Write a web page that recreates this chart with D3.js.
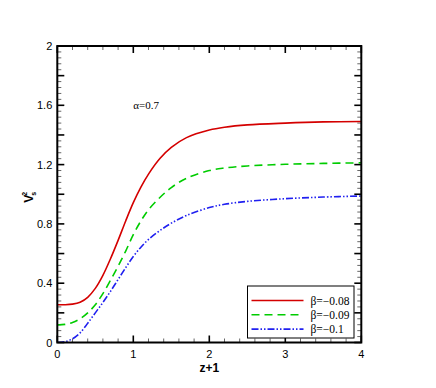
<!DOCTYPE html>
<html>
<head>
<meta charset="utf-8">
<script src="https://cdn.jsdelivr.net/npm/d3@7"></script>
<style>
  body { margin: 0; background: #fff; }
  svg { display: block; }
</style>
</head>
<body>
<div id="chart"></div>
<script>
(function () {
  'use strict';

  // ---- data ----
  var zValues     = [0, 0.1, 0.2, 0.3, 0.4, 0.5, 0.6, 0.7, 0.8, 0.9, 1.0, 1.1, 1.2, 1.35, 1.5, 1.7, 2.0, 2.2, 2.5, 3.0, 3.5, 4.0];
  var redValues   = [0.255, 0.255, 0.259, 0.272, 0.305, 0.365, 0.453, 0.565, 0.689, 0.82, 0.943, 1.048, 1.136, 1.241, 1.316, 1.382, 1.433, 1.452, 1.468, 1.48, 1.488, 1.491];
  var greenValues = [0.118, 0.122, 0.135, 0.16, 0.2, 0.255, 0.33, 0.42, 0.515, 0.617, 0.727, 0.82, 0.895, 0.978, 1.045, 1.108, 1.16, 1.177, 1.191, 1.202, 1.208, 1.212];
  var blueValues  = [0.0, 0.005, 0.025, 0.065, 0.13, 0.2, 0.27, 0.345, 0.425, 0.505, 0.58, 0.643, 0.695, 0.755, 0.805, 0.857, 0.91, 0.932, 0.952, 0.97, 0.981, 0.988];
  var seriesLabels = ["\u03b2=\u22120.08", "\u03b2=\u22120.09", "\u03b2=\u22120.1"];
  var xTickLabels = [0, 1, 2, 3, 4];
  var yTickLabels = [0, 0.4, 0.8, 1.2, 1.6, 2];

  var width = 436, height = 388;
  var plot = { left: 57.3, right: 361.3, top: 46, bottom: 342.5 };

  var svg = d3.select("#chart").append("svg")
      .attr("width", width)
      .attr("height", height);

  var x = d3.scaleLinear().domain([0, 4]).range([plot.left, plot.right]);
  var y = d3.scaleLinear().domain([0, 2]).range([plot.bottom, plot.top]);

  var styles = [
    { color: "#d40000", dash: null, values: redValues },
    { color: "#00cc00", dash: "8,5", values: greenValues },
    { color: "#2020f0", dash: "7,2,1.5,2,1.5,2", values: blueValues }
  ];

  // ---- ticks (inward, on all four sides) ----
  var xMinor = d3.range(0, 4.001, 0.2);
  var yMinor = d3.range(0, 2.001, 0.04);
  var yMajor = d3.range(0, 2.001, 0.2);

  var ticks = svg.append("g").attr("class", "ticks");

  xMinor.forEach(function (v) {
    var major = Math.abs(v - Math.round(v)) < 1e-6;
    var len = major ? 7 : 4;
    var col = major ? "#000" : "#666";
    var sw = major ? 1.6 : 1;
    ticks.append("line").attr("x1", x(v)).attr("x2", x(v))
      .attr("y1", plot.bottom).attr("y2", plot.bottom - len)
      .attr("stroke", col).attr("stroke-width", sw);
    ticks.append("line").attr("x1", x(v)).attr("x2", x(v))
      .attr("y1", plot.top).attr("y2", plot.top + len)
      .attr("stroke", col).attr("stroke-width", sw);
  });

  yMinor.forEach(function (v) {
    var major = yMajor.some(function (m) { return Math.abs(m - v) < 1e-6; });
    var len = major ? 7 : 4;
    var col = major ? "#000" : "#666";
    var sw = major ? 1.6 : 1;
    ticks.append("line").attr("y1", y(v)).attr("y2", y(v))
      .attr("x1", plot.left).attr("x2", plot.left + len)
      .attr("stroke", col).attr("stroke-width", sw);
    ticks.append("line").attr("y1", y(v)).attr("y2", y(v))
      .attr("x1", plot.right).attr("x2", plot.right - len)
      .attr("stroke", col).attr("stroke-width", sw);
  });

  // tick labels
  svg.selectAll(".xlab").data(xTickLabels).enter().append("text")
    .attr("class", "xlab")
    .attr("x", function (d) { return x(d); })
    .attr("y", plot.bottom + 15)
    .attr("text-anchor", "middle")
    .style("font-family", "'Liberation Sans', Arial, sans-serif")
    .style("font-size", "11px")
    .text(function (d) { return d; });

  svg.selectAll(".ylab").data(yTickLabels).enter().append("text")
    .attr("class", "ylab")
    .attr("x", plot.left - 5)
    .attr("y", function (d) { return y(d) + 4; })
    .attr("text-anchor", "end")
    .style("font-family", "'Liberation Sans', Arial, sans-serif")
    .style("font-size", "11px")
    .text(function (d) { return d; });

  // ---- curves ----
  var line = d3.line()
      .x(function (d) { return x(d[0]); })
      .y(function (d) { return y(d[1]); })
      .curve(d3.curveCatmullRom.alpha(0.5));

  svg.append("clipPath").attr("id", "clip")
    .append("rect").attr("x", plot.left).attr("y", plot.top)
    .attr("width", plot.right - plot.left).attr("height", plot.bottom - plot.top);

  styles.forEach(function (s) {
    svg.append("path")
      .datum(d3.zip(zValues, s.values))
      .attr("clip-path", "url(#clip)")
      .attr("fill", "none")
      .attr("stroke", s.color)
      .attr("stroke-width", 1.6)
      .attr("stroke-dasharray", s.dash)
      .attr("d", line);
  });

  // ---- frame ----
  svg.append("rect")
    .attr("x", plot.left).attr("y", plot.top)
    .attr("width", plot.right - plot.left)
    .attr("height", plot.bottom - plot.top)
    .attr("fill", "none")
    .attr("stroke", "#000")
    .attr("stroke-width", 2);

  // ---- axis titles ----
  svg.append("text")
    .attr("x", x(2))
    .attr("y", plot.bottom + 29)
    .attr("text-anchor", "middle")
    .style("font-family", "'Liberation Sans', Arial, sans-serif")
    .style("font-size", "12px")
    .style("font-weight", "bold")
    .text("z+1");

  var yTitle = svg.append("text")
    .attr("transform", "translate(33," + y(0.98) + ") rotate(-90)")
    .attr("text-anchor", "middle")
    .style("font-family", "'Liberation Sans', Arial, sans-serif")
    .style("font-size", "12px")
    .style("font-weight", "bold");
  yTitle.append("tspan").text("V");
  yTitle.append("tspan").attr("dy", 3).attr("dx", -1).style("font-size", "7px").text("s");
  yTitle.append("tspan").attr("dy", -9).attr("dx", -4).style("font-size", "7px").text("2");

  // ---- annotation ----
  svg.append("text")
    .attr("x", x(1))
    .attr("y", y(1.575))
    .style("font-family", "'Liberation Serif', 'Times New Roman', serif")
    .style("font-size", "11px")
    .text("\u03b1=0.7");

  // ---- legend ----
  var legend = svg.append("g").attr("transform", "translate(247.5,286)");
  legend.append("rect")
    .attr("width", 106.5).attr("height", 52)
    .attr("fill", "#fff")
    .attr("stroke", "#000")
    .attr("stroke-width", 1);

  styles.forEach(function (s, i) {
    var ly = 14.5 + i * 14.3;
    legend.append("line")
      .attr("x1", 4).attr("x2", 56)
      .attr("y1", ly).attr("y2", ly)
      .attr("stroke", s.color)
      .attr("stroke-width", 1.6)
      .attr("stroke-dasharray", s.dash);
    legend.append("text")
      .attr("x", 63).attr("y", ly + 4)
      .style("font-family", "'Liberation Serif', 'Times New Roman', serif")
      .style("font-size", "11.5px")
      .text(seriesLabels[i]);
  });
}());
</script>
</body>
</html>
